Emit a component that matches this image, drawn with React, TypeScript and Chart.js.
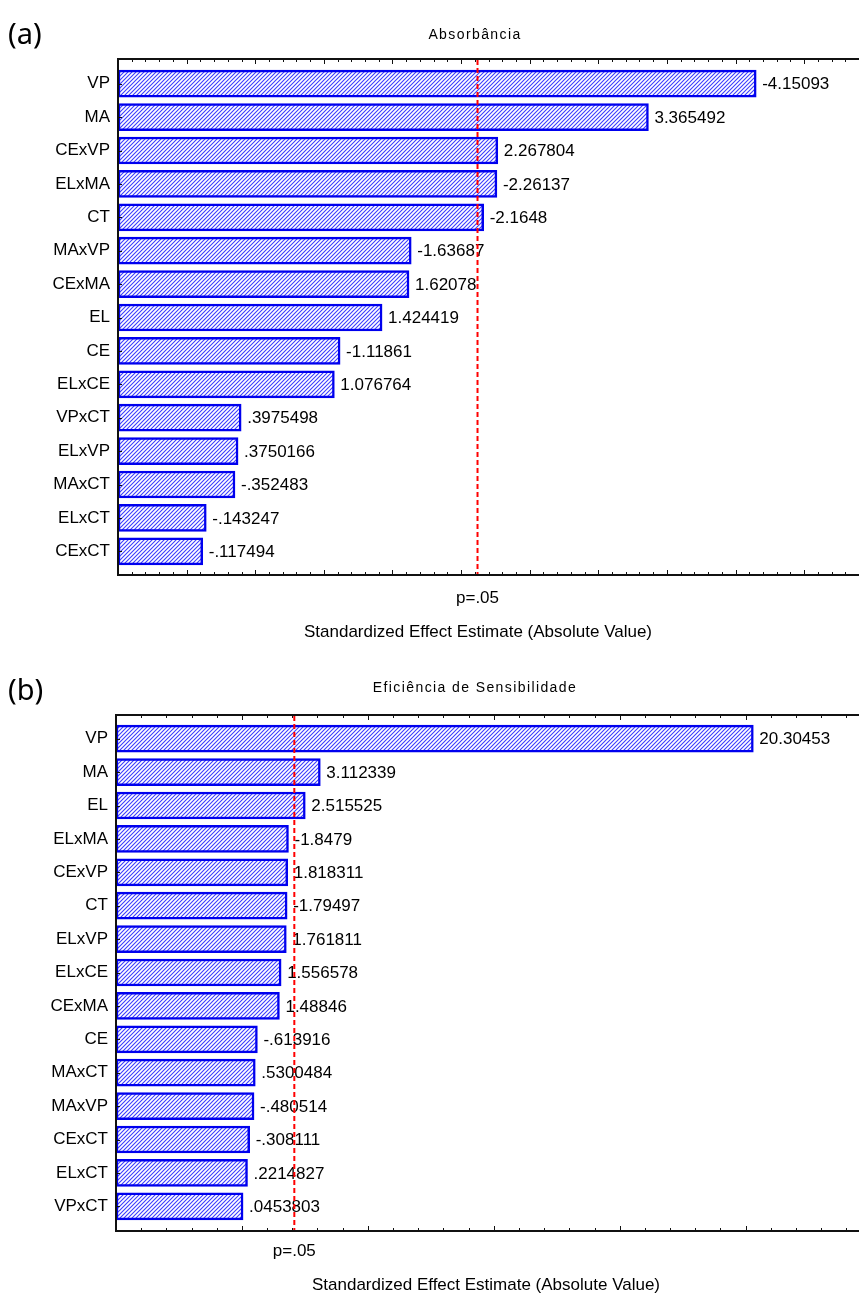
import React, { useEffect, useRef } from "react";
import { Chart, registerables } from "chart.js";

Chart.register(...registerables);

// ---------- Data ----------
const factorsA = ["VP", "MA", "CExVP", "ELxMA", "CT", "MAxVP", "CExMA", "EL", "CE", "ELxCE", "VPxCT", "ELxVP", "MAxCT", "ELxCT", "CExCT"];
const effectsA = [-4.15093, 3.365492, 2.267804, -2.26137, -2.1648, -1.63687, 1.62078, 1.424419, -1.11861, 1.076764, 0.3975498, 0.3750166, -0.352483, -0.143247, -0.117494];
const effectTextA = ["-4.15093", "3.365492", "2.267804", "-2.26137", "-2.1648", "-1.63687", "1.62078", "1.424419", "-1.11861", "1.076764", ".3975498", ".3750166", "-.352483", "-.143247", "-.117494"];
const titleA = "Absorbância";

const factorsB = ["VP", "MA", "EL", "ELxMA", "CExVP", "CT", "ELxVP", "ELxCE", "CExMA", "CE", "MAxCT", "MAxVP", "CExCT", "ELxCT", "VPxCT"];
const effectsB = [20.30453, 3.112339, 2.515525, -1.8479, 1.818311, -1.79497, 1.761811, 1.556578, 1.48846, -0.613916, 0.5300484, -0.480514, -0.308111, 0.2214827, 0.0453803];
const effectTextB = ["20.30453", "3.112339", "2.515525", "-1.8479", "1.818311", "-1.79497", "1.761811", "1.556578", "1.48846", "-.613916", ".5300484", "-.480514", "-.308111", ".2214827", ".0453803"];
const titleB = "Eficiência de Sensibilidade";

const critLabel = "p=.05";
const axisTitle = "Standardized Effect Estimate (Absolute Value)";

const FONT = "'Liberation Sans', Arial, sans-serif";

function makeHatch(): CanvasPattern | string {
  const c = document.createElement("canvas");
  c.width = 4;
  c.height = 4;
  const g = c.getContext("2d");
  if (!g) return "#8888ff";
  g.fillStyle = "#ffffff";
  g.fillRect(0, 0, 4, 4);
  g.strokeStyle = "#3c3cff";
  g.lineWidth = 1.1;
  g.beginPath();
  g.moveTo(-1, 5);
  g.lineTo(5, -1);
  g.moveTo(-1, 1);
  g.lineTo(1, -1);
  g.moveTo(3, 5);
  g.lineTo(5, 3);
  g.stroke();
  return g.createPattern(c, "repeat") || "#8888ff";
}

type PanelProps = {
  top: number;
  height: number;
  factors: string[];
  effects: number[];
  effectText: string[];
  title: string;
  panel: string;
  xMin: number;
  xMax: number;
  crit: number;
  majorStep: number;
  minorStep: number;
  padTop: number;
  padBottom: number;
  frameTop: number;
  frameBottom: number;
  left: number;
  titleY: number;
  titleX: number;
  critY: number;
  axisTitleX: number;
  axisTitleY: number;
  panelY: number;
};

function Panel(p: PanelProps) {
  const ref = useRef<HTMLCanvasElement | null>(null);
  useEffect(() => {
    const canvas = ref.current;
    if (!canvas) return;
    const abs = p.effects.map((v) => Math.abs(v));
    const W = 859;

    const decor = {
      id: "decor",
      afterDatasetsDraw(chart: any) {
        const ctx = chart.ctx as CanvasRenderingContext2D;
        const xs = chart.scales.x;
        const ys = chart.scales.y;
        const L = chart.chartArea.left;
        ctx.save();
        // frame
        ctx.strokeStyle = "#111";
        ctx.lineWidth = 2;
        ctx.beginPath();
        ctx.moveTo(W + 2, p.frameTop);
        ctx.lineTo(L, p.frameTop);
        ctx.lineTo(L, p.frameBottom);
        ctx.lineTo(W + 2, p.frameBottom);
        ctx.stroke();
        // x ticks
        ctx.lineWidth = 1;
        const n = Math.round((p.xMax - p.xMin) / p.minorStep);
        for (let i = 0; i <= n; i++) {
          const v = p.xMin + i * p.minorStep;
          const x = Math.round(xs.getPixelForValue(v)) + 0.5;
          const r = (v - p.xMin) / p.majorStep;
          const major = Math.abs(r - Math.round(r)) < 1e-6;
          const len = major ? 5 : 3;
          ctx.beginPath();
          ctx.moveTo(x, p.frameTop);
          ctx.lineTo(x, p.frameTop + len);
          ctx.moveTo(x, p.frameBottom);
          ctx.lineTo(x, p.frameBottom - len);
          ctx.stroke();
        }
        // y ticks
        for (let i = 0; i < p.factors.length; i++) {
          const y = Math.round(ys.getPixelForValue(i)) + 0.5;
          ctx.beginPath();
          ctx.moveTo(L, y);
          ctx.lineTo(L + 4, y);
          ctx.stroke();
        }
        // value labels
        ctx.fillStyle = "#000";
        ctx.font = `17px ${FONT}`;
        ctx.textBaseline = "middle";
        ctx.textAlign = "left";
        for (let i = 0; i < abs.length; i++) {
          const x = xs.getPixelForValue(abs[i]) + 6;
          const y = ys.getPixelForValue(i) + 1;
          ctx.fillText(p.effectText[i], x, y);
        }
        // critical line
        const cx = xs.getPixelForValue(p.crit);
        ctx.strokeStyle = "#ff0000";
        ctx.lineWidth = 2;
        ctx.setLineDash([5, 3]);
        ctx.beginPath();
        ctx.moveTo(cx, p.frameTop + 1);
        ctx.lineTo(cx, p.frameBottom - 1);
        ctx.stroke();
        ctx.setLineDash([]);
        // texts
        ctx.fillStyle = "#000";
        ctx.textAlign = "center";
        ctx.font = `17px ${FONT}`;
        ctx.fillText(critLabel, cx, p.critY);
        ctx.fillText(axisTitle, p.axisTitleX, p.axisTitleY);
        ctx.font = `14px ${FONT}`;
        (ctx as any).letterSpacing = "1.4px";
        ctx.fillText(p.title, p.titleX, p.titleY);
        (ctx as any).letterSpacing = "0px";
        ctx.textAlign = "left";
        ctx.font = `29px 'Noto Sans', 'Open Sans', sans-serif`;
        ctx.fillText(p.panel, 8, p.panelY);
        ctx.restore();
      },
    };

    const chart = new Chart(canvas, {
      type: "bar",
      data: {
        labels: p.factors,
        datasets: [
          {
            data: abs,
            base: p.xMin,
            backgroundColor: makeHatch() as any,
            borderColor: "#0000ee",
            borderWidth: 2.5,
            borderSkipped: false,
            barThickness: 27,
          } as any,
        ],
      },
      options: {
        indexAxis: "y",
        animation: false,
        responsive: false,
        maintainAspectRatio: false,
        devicePixelRatio: 1,
        layout: { padding: { left: 0, right: 0, top: p.padTop, bottom: p.padBottom } },
        plugins: { legend: { display: false }, tooltip: { enabled: false }, title: { display: false } },
        scales: {
          x: { type: "linear", min: p.xMin, max: p.xMax, display: false },
          y: {
            type: "category",
            offset: true,
            grid: { display: false, drawTicks: false },
            border: { display: false },
            ticks: { color: "#000", padding: 8, font: { family: FONT, size: 17 } },
            afterFit: (s: any) => {
              s.width = p.left;
            },
          },
        },
      },
      plugins: [decor],
    });
    return () => chart.destroy();
  }, []);
  return (
    <canvas
      ref={ref}
      width={859}
      height={p.height}
      style={{ position: "absolute", left: 0, top: p.top, width: 859, height: p.height, display: "block" }}
    />
  );
}

export default function App() {
  return (
    <div style={{ position: "absolute", left: 0, top: 0, width: 859, height: 1297, background: "#fff", overflow: "hidden" }}>
      <Panel
        top={0}
        height={650}
        factors={factorsA}
        effects={effectsA}
        effectText={effectTextA}
        title={titleA}
        panel="(a)"
        xMin={-0.5}
        xMax={4.9}
        crit={2.12}
        majorStep={0.5}
        minorStep={0.1}
        padTop={67}
        padBottom={650 - 568}
        frameTop={59}
        frameBottom={575}
        left={118}
        titleX={475}
        titleY={35}
        critY={598}
        axisTitleX={478}
        axisTitleY={632}
        panelY={36}
      />
      <Panel
        top={650}
        height={647}
        factors={factorsB}
        effects={effectsB}
        effectText={effectTextB}
        title={titleB}
        panel="(b)"
        xMin={-5}
        xMax={24.5}
        crit={2.08}
        majorStep={5}
        minorStep={1}
        padTop={72}
        padBottom={647 - 573}
        frameTop={65}
        frameBottom={581}
        left={116}
        titleX={475}
        titleY={38}
        critY={601}
        axisTitleX={486}
        axisTitleY={635}
        panelY={42}
      />
    </div>
  );
}
